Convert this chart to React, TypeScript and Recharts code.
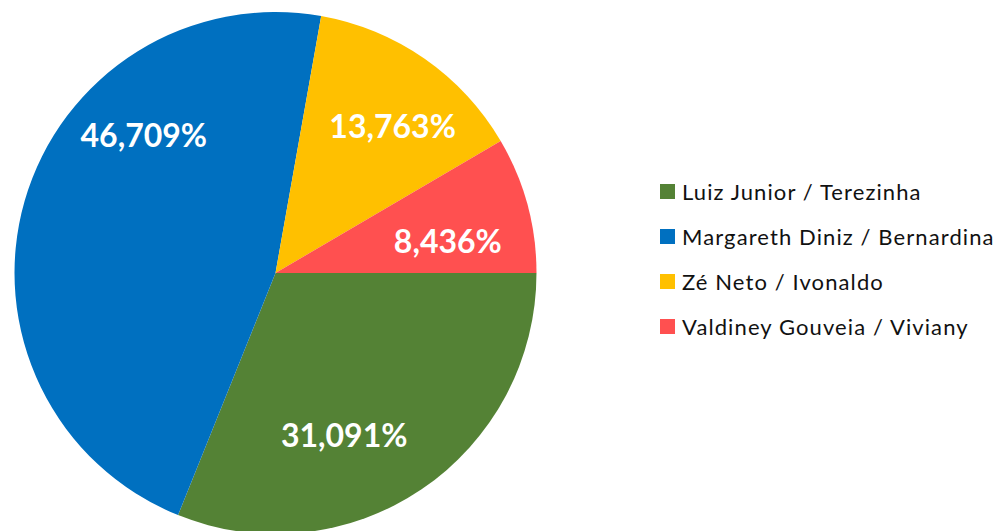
import React from 'react';
import { PieChart, Pie, Cell, Legend } from 'recharts';

const names = [
  'Luiz Junior / Terezinha',
  'Margareth Diniz / Bernardina',
  'Zé Neto / Ivonaldo',
  'Valdiney Gouveia / Viviany',
];
const shares = [31.091, 46.709, 13.763, 8.436];
const colors = ['#548235', '#0070C0', '#FFC000', '#FF5050'];

// Excel "best fit" nudges for the data labels: extra clockwise degrees, radius fraction
const labelTurn = [11, 30.5, 3.5, 4.5];
const labelRadius = [0.673, 0.733, 0.723, 0.672];

const data = names.map((name, i) => ({ name, value: shares[i] }));

const RAD = Math.PI / 180;
const FONT = 'Lato, "Open Sans", sans-serif';

function SliceLabel(props: any) {
  const { cx, cy, midAngle, outerRadius, index, value } = props;
  const a = -midAngle + labelTurn[index];
  const r = outerRadius * labelRadius[index];
  const x = cx + r * Math.cos(a * RAD);
  const y = cy + r * Math.sin(a * RAD);
  return (
    <text
      x={x}
      y={y}
      fill="#fff"
      textAnchor="middle"
      dominantBaseline="central"
      style={{ fontFamily: FONT, fontWeight: 700, fontSize: 32 }}
    >
      {value.toFixed(3).replace('.', ',')}%
    </text>
  );
}

function LegendList() {
  return (
    <div style={{ fontFamily: FONT, fontSize: 22, letterSpacing: 1.1, color: '#111' }}>
      {names.map((n, i) => (
        <div key={n} style={{ display: 'flex', alignItems: 'center', height: 45 }}>
          <span style={{ width: 15, height: 15, background: colors[i], marginRight: 7, flexShrink: 0 }} />
          <span style={{ whiteSpace: 'nowrap' }}>{n}</span>
        </div>
      ))}
    </div>
  );
}

export default function App() {
  return (
    <div style={{ width: 1002, height: 531, background: '#fff', overflow: 'hidden' }}>
      <style>{'body{margin:0}'}</style>
      <PieChart width={1002} height={531} margin={{ top: 0, right: 0, bottom: 0, left: 0 }}>
        <Pie
          data={data}
          dataKey="value"
          nameKey="name"
          cx={275.5}
          cy={273}
          outerRadius={261}
          startAngle={0}
          endAngle={-360}
          stroke="none"
          label={SliceLabel}
          labelLine={false}
          isAnimationActive={false}
        >
          {data.map((d, i) => (
            <Cell key={d.name} fill={colors[i]} />
          ))}
        </Pie>
        <Legend
          content={<LegendList />}
          wrapperStyle={{ left: 660, top: 169, width: 342 }}
        />
      </PieChart>
    </div>
  );
}
